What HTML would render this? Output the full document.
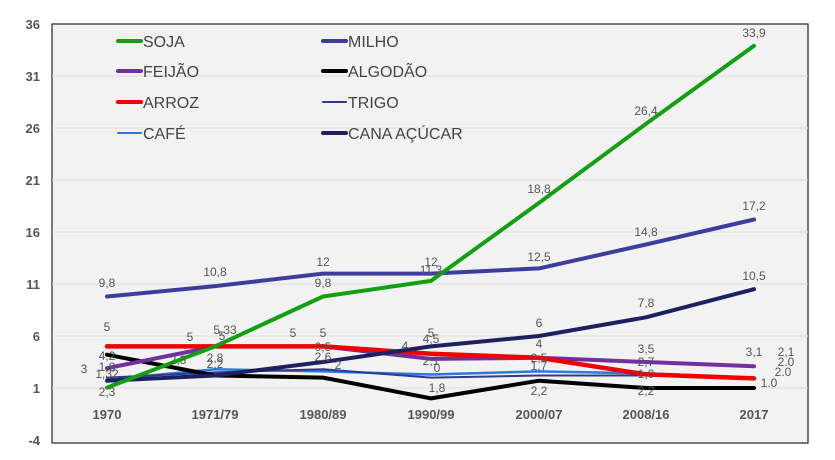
<!DOCTYPE html>
<html><head><meta charset="utf-8"><style>
html,body{margin:0;padding:0;background:#fff;}
svg{display:block;font-family:"Liberation Sans",sans-serif;}
</style></head><body>
<svg width="835" height="460" viewBox="0 0 835 460">
<rect x="52" y="24" width="756" height="419" fill="#f2f2f2" stroke="#333" stroke-width="1.3"/>
<g stroke="#dcdcdc" stroke-width="1">
<line x1="52" x2="808" y1="76" y2="76"/><line x1="52" x2="808" y1="128" y2="128"/>
<line x1="52" x2="808" y1="180" y2="180"/><line x1="52" x2="808" y1="232" y2="232"/>
<line x1="52" x2="808" y1="284" y2="284"/><line x1="52" x2="808" y1="336" y2="336"/>
<line x1="52" x2="808" y1="388" y2="388"/>
</g>
<g font-size="13" font-weight="bold" fill="#555" text-anchor="end">
<text x="40" y="29">36</text><text x="40" y="81">31</text><text x="40" y="133">26</text>
<text x="40" y="185">21</text><text x="40" y="237">16</text><text x="40" y="289">11</text>
<text x="40" y="341">6</text><text x="40" y="393">1</text><text x="40" y="445">-4</text>
</g>
<g font-size="13" font-weight="bold" fill="#555" text-anchor="middle">
<text x="107" y="419">1970</text><text x="215" y="419">1971/79</text><text x="323" y="419">1980/89</text>
<text x="431" y="419">1990/99</text><text x="539" y="419">2000/07</text><text x="646" y="419">2008/16</text>
<text x="754" y="419">2017</text>
</g>
<g fill="none" stroke-linejoin="round" stroke-linecap="round">
<polyline stroke="#2a7ad8" stroke-width="2.5" points="107,379.7 215,369.3 323,371.4 431,374.5 539,371.4 646,373.4 754,377.6"/>
<polyline stroke="#2e3a8c" stroke-width="2" points="107,377.6 215,372.4 323,369.3 431,377.6 539,375.5 646,375.5 754,377.6"/>
<polyline stroke="#000" stroke-width="4" points="107,354.7 215,375.5 323,377.6 431,398.4 539,380.7 646,388 754,388"/>
<polyline stroke="#7030a0" stroke-width="4" points="107,368.2 215,346.4 323,346.4 431,358.9 539,357.8 646,362 754,366.2"/>
<polyline stroke="#f00000" stroke-width="4.5" points="107,346.4 215,346.4 323,346.4 431,353.7 539,357.8 646,374.4 754,378.4"/>
<polyline stroke="#1f2060" stroke-width="4" points="107,380.7 215,375.5 323,362 431,346.4 539,336 646,317.3 754,289.2"/>
<polyline stroke="#3d3d9e" stroke-width="4" points="107,296.5 215,286.1 323,273.6 431,273.6 539,268.4 646,244.5 754,219.5"/>
<polyline stroke="#12a012" stroke-width="4" points="107,387.6 215,346.4 323,296.5 431,280.9 539,202.9 646,123.8 754,45.8"/>
</g>
<g font-size="12" fill="#555" text-anchor="middle">
<text x="754" y="37">33,9</text><text x="646" y="115">26,4</text><text x="539" y="193">18,8</text>
<text x="754" y="210">17,2</text><text x="646" y="236">14,8</text><text x="539" y="261">12,5</text>
<text x="431" y="266">12</text><text x="431" y="274">11,3</text><text x="323" y="266">12</text>
<text x="215" y="276">10,8</text><text x="107" y="287">9,8</text><text x="323" y="287">9,8</text>
<text x="754" y="280">10,5</text><text x="646" y="307">7,8</text><text x="539" y="327">6</text>
<text x="107" y="331">5</text><text x="190" y="341">5</text><text x="225" y="334">5,33</text><text x="222" y="340">5</text>
<text x="293" y="337">5</text><text x="323" y="337">5</text><text x="323" y="351">0,5</text>
<text x="405" y="350">4</text><text x="431" y="337">5</text><text x="431" y="343">4,5</text>
<text x="539" y="348">4</text><text x="646" y="353">3,5</text><text x="754" y="356">3,1</text>
<text x="539" y="362">2,5</text><text x="646" y="366">2,7</text><text x="539" y="370">1,7</text>
<text x="646" y="378">1,0</text><text x="107" y="360">4,2</text><text x="84" y="373">3</text>
<text x="107" y="371">1,8</text><text x="107" y="378">1,32</text><text x="107" y="396">2,3</text>
<text x="215" y="362">2,8</text><text x="215" y="368">2,2</text><text x="178" y="364">2,3</text>
<text x="323" y="361">2,6</text><text x="338" y="369">2</text><text x="431" y="365">2,1</text>
<text x="437" y="372">0</text><text x="437" y="392">1,8</text><text x="539" y="395">2,2</text>
<text x="646" y="395">2,2</text>
<text x="786" y="356">2,1</text><text x="786" y="366">2.0</text><text x="783" y="376">2.0</text><text x="769" y="387">1.0</text>
</g>
<g stroke-linecap="round">
<line x1="118" x2="141" y1="41" y2="41" stroke="#12a012" stroke-width="4"/>
<line x1="118" x2="141" y1="71" y2="71" stroke="#7030a0" stroke-width="4"/>
<line x1="118" x2="141" y1="102" y2="102" stroke="#f00000" stroke-width="4"/>
<line x1="118" x2="141" y1="133" y2="133" stroke="#2a7ad8" stroke-width="2"/>
<line x1="323" x2="346" y1="41" y2="41" stroke="#3d3d9e" stroke-width="4"/>
<line x1="323" x2="346" y1="71" y2="71" stroke="#000" stroke-width="4"/>
<line x1="323" x2="346" y1="102" y2="102" stroke="#2e3a8c" stroke-width="2"/>
<line x1="323" x2="346" y1="133" y2="133" stroke="#1f2060" stroke-width="4"/>
</g>
<g font-size="16" fill="#444">
<text x="143" y="47">SOJA</text><text x="143" y="77">FEIJÃO</text><text x="143" y="108">ARROZ</text><text x="143" y="139">CAFÉ</text>
<text x="348" y="47">MILHO</text><text x="348" y="77">ALGODÃO</text><text x="348" y="108">TRIGO</text><text x="348" y="139">CANA AÇÚCAR</text>
</g>
</svg>
</body></html>
